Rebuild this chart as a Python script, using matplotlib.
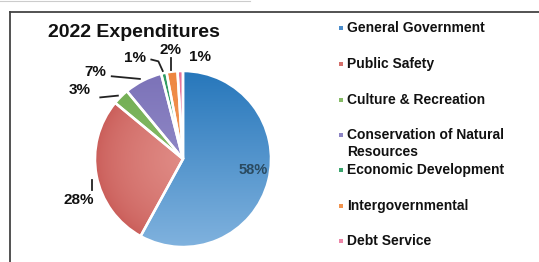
import matplotlib
matplotlib.use("Agg")
import matplotlib.pyplot as plt
from matplotlib.lines import Line2D
from matplotlib.patches import Rectangle
from matplotlib.colors import to_rgb
import numpy as np

title = "2022 Expenditures"
categories = ["General Government", "Public Safety", "Culture & Recreation",
              "Conservation of Natural\nResources", "Economic Development",
              "Intergovernmental", "Debt Service"]
values = [58, 28, 3, 7, 1, 2, 1]
colors = ["#4a8ccb", "#d4706c", "#86bb66", "#8c84c4", "#3aa56e", "#f2944f", "#ec86a8"]
# gradient ends (dark, light) for shading the wedges
grad_dark = ["#2777bb", "#c95b57", "#6fab4f", "#7b72b8", "#2f9a62", "#ee8640", "#e7729a"]
grad_light = ["#80b2de", "#e4948e", "#9ccb80", "#a39cd2", "#5bbb88", "#f6ad78", "#f2a2bd"]
grad_mode = ["vertical", "radial", "vertical", "vertical", "vertical", "vertical", "vertical"]

W, H = 539, 262
fig = plt.figure(figsize=(W / 100, H / 100), dpi=100)
fig.patch.set_facecolor("white")

# frame lines
fig.add_artist(Line2D([10 / W, 1], [1 - 12 / H, 1 - 12 / H], color="#444444", lw=1.3))
fig.add_artist(Line2D([10 / W, 10 / W], [0, 1 - 12 / H], color="#444444", lw=1.3))
fig.add_artist(Line2D([0, 250 / W], [1 - 1 / H, 1 - 1 / H], color="#cccccc", lw=0.8))

R = 88.0
cx, cy = 183.0, 159.0
ax = fig.add_axes([0, 0, 1, 1])
wedges, _ = ax.pie(values, colors=colors, startangle=90, counterclock=False,
                   radius=1.0, wedgeprops=dict(edgecolor="white", linewidth=1.8))
ax.set_xlim(-cx / R, (W - cx) / R)
ax.set_ylim(-(H - cy) / R, cy / R)
ax.set_aspect("auto")
ax.axis("off")

# gradient fills clipped to each wedge
n = 200
gx, gy = np.meshgrid(np.linspace(-1, 1, n), np.linspace(1, -1, n))
for i, w in enumerate(wedges):
    d = np.array(to_rgb(grad_dark[i]))
    l = np.array(to_rgb(grad_light[i]))
    if grad_mode[i] == "vertical":
        t = (1 - gy) / 2
    else:
        t = np.clip(1 - np.sqrt(gx ** 2 + gy ** 2), 0, 1) ** 0.6 * 0.85
    img = d[None, None, :] * (1 - t[..., None]) + l[None, None, :] * t[..., None]
    im = ax.imshow(img, extent=(-1, 1, -1, 1), zorder=1, interpolation="bilinear")
    im.set_clip_path(w)
    w.set_facecolor("none")
    w.set_zorder(2)

# label layout (text position, leader polyline) in pie-radius units
label_pos = [(0.80, -0.13), (-1.19, -0.47), (-1.17, 0.78), (-1.0, 0.99),
             (-0.55, 1.15), (-0.14, 1.24), (0.19, 1.16)]
leaders = [None,
           [(-1.03, -0.24), (-1.03, -0.35)],
           [(-0.94, 0.70), (-0.74, 0.72)],
           [(-0.81, 0.94), (-0.49, 0.91)],
           [(-0.36, 1.13), (-0.28, 1.11), (-0.23, 1.0)],
           [(-0.14, 1.15), (-0.14, 1.01)],
           None]
for i, v in enumerate(values):
    x, y = label_pos[i]
    col = "#2a4a60" if i == 0 else "#111111"
    ax.text(x, y, f"{v}%", ha="center", va="center", fontsize=11 if i else 10.5,
            fontweight="bold", color=col, family="Liberation Sans", zorder=5)
    if leaders[i]:
        xs, ys = zip(*leaders[i])
        ax.plot(xs, ys, color="#222222", lw=1.3, zorder=5)

fig.text(134 / W, 1 - 33 / H, title, ha="center", va="center", fontsize=14,
         fontweight="bold", family="Liberation Sans", color="#111111")

# legend
rows_y = [28, 64, 100, 135, 170, 206, 241]
for i, lab in enumerate(categories):
    y = rows_y[i]
    fig.add_artist(Rectangle((339 / W, 1 - (y + 2) / H), 4 / W, 4 / H,
                             transform=fig.transFigure, color=colors[i], lw=0))
    lines = lab.split("\n")
    for j, ln in enumerate(lines):
        fig.text(347 / W, 1 - (y + 17 * j) / H, ln, ha="left", va="center",
                 fontsize=10, fontweight="bold", family="Liberation Sans",
                 color="#111111")

fig.savefig("out.png", dpi=100)
